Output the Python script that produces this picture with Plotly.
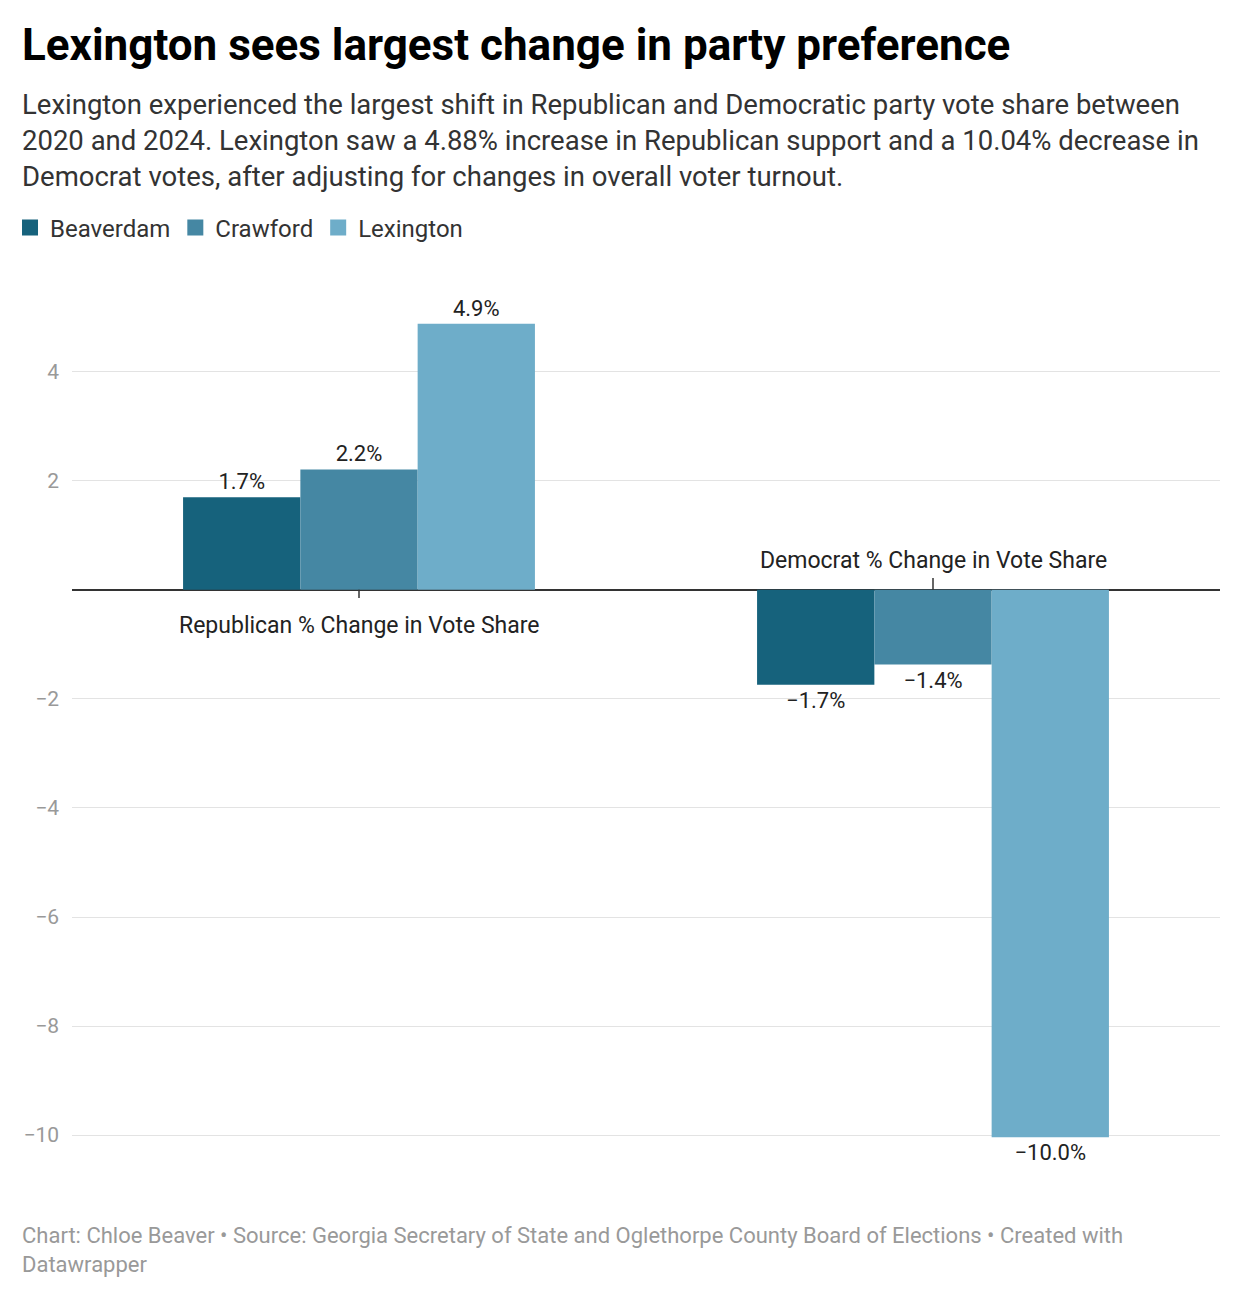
import plotly.graph_objects as go

categories = ["Republican % Change in Vote Share", "Democrat % Change in Vote Share"]
series = ["Beaverdam", "Crawford", "Lexington"]
values = {
    "Beaverdam": [1.70, -1.74],
    "Crawford": [2.21, -1.37],
    "Lexington": [4.88, -10.04],
}
colors = {"Beaverdam": "#16627c", "Crawford": "#4587a3", "Lexington": "#6eadc9"}
yticks = [-10, -8, -6, -4, -2, 2, 4]

fig = go.Figure()
for s in series:
    fig.add_bar(
        x=categories, y=values[s], name=s, marker_color=colors[s], marker_line_width=0,
        text=[f"{v:.1f}%".replace("-", "\u2212") for v in values[s]],
        textposition="outside", cliponaxis=False, showlegend=False,
        textfont=dict(size=22, color="#222", family="Roboto"),
    )
for s in series:
    fig.add_scatter(x=[None], y=[None], mode="markers", name=s,
                    marker=dict(symbol="square", size=26, color=colors[s]))

fig.add_annotation(x=categories[0], y=0, yref="y", text=categories[0], showarrow=False,
                   yanchor="top", yshift=-20, font=dict(size=23, color="#222", family="Roboto"))
fig.add_annotation(x=categories[1], y=0, yref="y", text=categories[1], showarrow=False,
                   yanchor="bottom", yshift=14, font=dict(size=23, color="#222", family="Roboto"))
fig.add_shape(type="line", xref="x", yref="y", x0=categories[0], x1=categories[0], y0=0, y1=-0.15,
              line=dict(color="#333", width=1.5))
fig.add_shape(type="line", xref="x", yref="y", x0=categories[1], x1=categories[1], y0=0, y1=0.22,
              line=dict(color="#333", width=1.5))

X0 = -52 / 1148
fig.add_annotation(xref="paper", yref="paper", x=X0, y=1 + (290 - 45) / 856, xanchor="left", yanchor="middle",
                   text="<b>Lexington sees largest change in party preference</b>", showarrow=False,
                   font=dict(size=44, color="#000", family="Roboto"))
fig.add_annotation(xref="paper", yref="paper", x=X0, y=1 + (290 - 140) / 856, xanchor="left", yanchor="middle",
                   align="left", showarrow=False,
                   text="Lexington experienced the largest shift in Republican and Democratic party vote share between<br>"
                        "2020 and 2024. Lexington saw a 4.88% increase in Republican support and a 10.04% decrease in<br>"
                        "Democrat votes, after adjusting for changes in overall voter turnout.",
                   font=dict(size=27.5, color="#333", family="Roboto"))
fig.add_annotation(xref="paper", yref="paper", x=X0, y=1 - (1250 - 290) / 856, xanchor="left", yanchor="middle",
                   align="left", showarrow=False,
                   text="Chart: Chloe Beaver • Source: Georgia Secretary of State and Oglethorpe County Board of Elections • Created with<br>Datawrapper",
                   font=dict(size=22, color="#999", family="Roboto"))

fig.update_layout(
    width=1240, height=1298, barmode="group", bargap=0.387, bargroupgap=0,
    margin=dict(l=64, r=28, t=282, b=160, autoexpand=False),
    plot_bgcolor="white", paper_bgcolor="white",
    font=dict(family="Roboto"),
    legend=dict(orientation="h", x=-0.054, xanchor="left", y=1 + (290 - 228) / 856, yanchor="middle",
                font=dict(size=24, color="#333"), itemwidth=30, traceorder="normal"),
    xaxis=dict(showticklabels=False, ticks="", showgrid=False),
    yaxis=dict(range=[-10.2, 5.5], tickvals=yticks, gridcolor="#e3e3e3", zeroline=True, automargin=False,
               zerolinecolor="#333", zerolinewidth=1.5, tickfont=dict(size=21, color="#999"),
               ticks="", ticklabelstandoff=12),
)
fig.write_html("out.html")
